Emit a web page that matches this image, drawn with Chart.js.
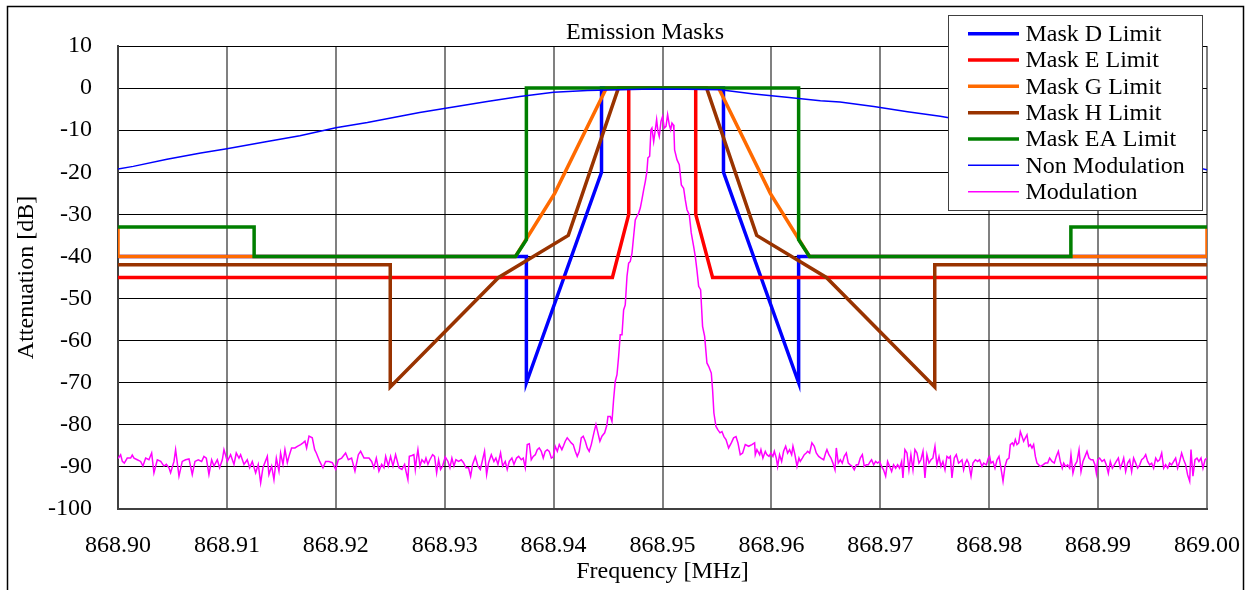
<!DOCTYPE html>
<html>
<head>
<meta charset="utf-8">
<script src="https://cdn.jsdelivr.net/npm/chart.js@4.4.1/dist/chart.umd.min.js"></script>
<style>
  body { margin: 0; background: #fff; }
  canvas { display: block; }
</style>
</head>
<body>
<canvas id="maskChart" width="1255" height="590"></canvas>
<script>
// x values are kHz above 868.90 MHz, y values are dB
var xTickLabels = ['868.90', '868.91', '868.92', '868.93', '868.94', '868.95',
                   '868.96', '868.97', '868.98', '868.99', '869.00'];

var maskDKHz = [0, 37.5, 37.5, 44.4, 44.4, 55.6, 55.6, 62.5, 62.5, 100];
var maskDDb  = [-40, -40, -70, -20, 0, 0, -20, -70, -40, -40];

var maskEKHz = [0, 45.4, 46.9, 46.9, 53.05, 53.05, 54.6, 100];
var maskEDb  = [-45, -45, -30, 0, 0, -30, -45, -45];

var maskGKHz = [0, 0, 36.5, 40.1, 44.85, 55.15, 59.9, 63.5, 100, 100];
var maskGDb  = [-33, -40, -40, -25, 0, 0, -25, -40, -40, -33];

var maskHKHz = [0, 25, 25, 34.95, 41.35, 45.95, 54.05, 58.65, 65.05, 75, 75, 100];
var maskHDb  = [-42, -42, -71, -45, -35, 0, 0, -35, -45, -71, -42, -42];

var maskEAKHz = [0, 12.5, 12.5, 36.5, 37.5, 37.5, 62.5, 62.5, 63.5, 87.5, 87.5, 100];
var maskEADb  = [-33, -33, -40, -40, -36, 0, 0, -36, -40, -40, -33, -33];

var nonModKHz = [0, 1.4, 4.5, 7.6, 10, 13.7, 16.7, 20, 22.9, 25.9, 27.7, 30.8, 33.9, 36.9, 40, 43.1,
                 46.1, 49.2, 52.2, 55.3, 58.4, 61.4, 64.5, 66.3, 69.4, 72.5, 75.5, 78, 80, 84, 88, 92, 96, 100];
var nonModDb  = [-19.2, -18.6, -16.9, -15.4, -14.4, -12.7, -11.3, -9.4, -8.2, -6.7, -5.8, -4.5, -3.2, -2.0, -1.0, -0.6,
                 -0.4, -0.2, -0.3, -0.4, -1.4, -2.2, -3.0, -3.3, -4.4, -5.6, -6.7, -7.8, -8.9, -10.8, -12.8, -15.0, -17.2, -19.4];

var modKHz = [
  0, 0.24, 0.40, 0.58, 0.85, 1.16, 1.31, 1.47, 1.77, 2.08, 2.29, 2.54, 2.84, 3.09, 3.30, 3.61, 3.92, 4.22, 4.44, 4.68,
  4.83, 5.14, 5.29, 5.60, 5.90, 6.21, 6.52, 6.82, 7.07, 7.37, 7.68, 7.89, 8.11, 8.35, 8.60, 8.81, 9.12, 9.33, 9.58, 9.73,
  10.04, 10.34, 10.65, 10.86, 11.11, 11.26, 11.57, 11.87, 12.09, 12.33, 12.64, 12.88, 13.10, 13.31, 13.71, 13.86, 14.11, 14.32, 14.54, 14.78,
  14.93, 15.15, 15.33, 15.55, 15.70, 15.94, 16.25, 16.47, 16.77, 16.99, 17.17, 17.32, 17.54, 17.84, 18.06, 18.21, 18.52, 18.82, 19.07, 19.37,
  19.68, 19.99, 20.23, 20.54, 20.90, 21.15, 21.45, 21.76, 22.07, 22.28, 22.59, 23.05, 23.29, 23.50, 23.72, 23.96, 24.21, 24.42, 24.58, 24.82,
  25.03, 25.25, 25.49, 25.80, 26.07, 26.32, 26.44, 26.62, 26.75, 26.99, 27.17, 27.30, 27.42, 27.54, 27.73, 27.91, 28.15, 28.28, 28.46, 28.64,
  28.89, 29.07, 29.26, 29.44, 29.62, 29.81, 30.05, 30.30, 30.48, 30.66, 30.85, 31.03, 31.28, 31.52, 31.73, 31.95, 32.19, 32.38, 32.56, 32.81,
  33.05, 33.27, 33.48, 33.66, 33.85, 34.03, 34.28, 34.52, 34.70, 34.89, 35.13, 35.32, 35.56, 35.74, 35.93, 36.17, 36.36, 36.60, 36.79, 37.03,
  37.21, 37.40, 37.58, 37.77, 37.95, 38.13, 38.32, 38.50, 38.68, 38.87, 39.05, 39.23, 39.42, 39.60, 39.79, 39.97, 40.15, 40.34, 40.52, 40.76,
  40.92, 41.07, 41.25, 41.44, 41.62, 41.80, 41.99, 42.17, 42.36, 42.54, 42.72, 42.91, 43.09, 43.27, 43.46, 43.70, 43.89, 44.07, 44.25, 44.44,
  44.69, 44.90, 44.99, 45.21, 45.36, 45.51, 45.66, 45.82, 45.97, 46.12, 46.28, 46.43, 46.58, 46.74, 46.89, 47.04, 47.20, 47.35, 47.50, 47.65,
  47.81, 47.96, 48.11, 48.27, 48.42, 48.57, 48.66, 48.82, 48.94, 49.03, 49.19, 49.34, 49.46, 49.58, 49.70, 49.86, 50.01, 50.16, 50.32, 50.47,
  50.62, 50.75, 50.87, 50.99, 51.05, 51.11, 51.33, 51.54, 51.73, 51.94, 52.09, 52.25, 52.46, 52.64, 52.86, 53.01, 53.16, 53.32, 53.50, 53.68,
  53.87, 54.08, 54.24, 54.48, 54.60, 54.72, 54.91, 55.09, 55.28, 55.46, 55.64, 55.83, 56.07, 56.32, 56.53, 56.75, 56.93, 57.14, 57.36, 57.60,
  57.91, 58.21, 58.46, 58.52, 58.67, 58.92, 59.04, 59.22, 59.44, 59.59, 59.78, 59.96, 60.14, 60.27, 60.45, 60.57, 60.75, 60.94, 61.12, 61.31,
  61.49, 61.67, 61.86, 61.98, 62.16, 62.35, 62.53, 62.65, 62.84, 63.02, 63.20, 63.33, 63.51, 63.72, 63.94, 64.12, 64.34, 64.55, 64.80, 64.98,
  65.10, 65.28, 65.47, 65.65, 65.84, 65.96, 66.14, 66.33, 66.51, 66.69, 66.88, 67.06, 67.24, 67.43, 67.61, 67.80, 67.98, 68.16, 68.35, 68.53,
  68.71, 68.90, 69.08, 69.20, 69.39, 69.57, 69.75, 69.94, 70.12, 70.30, 70.49, 70.67, 70.86, 71.04, 71.22, 71.41, 71.59, 71.77, 71.96, 72.08,
  72.26, 72.45, 72.63, 72.81, 73.00, 73.18, 73.37, 73.55, 73.73, 73.92, 74.10, 74.28, 74.47, 74.65, 74.83, 75.02, 75.20, 75.39, 75.57, 75.75,
  75.94, 76.12, 76.30, 76.43, 76.58, 76.79, 76.98, 77.19, 77.35, 77.50, 77.65, 77.81, 77.96, 78.11, 78.33, 78.51, 78.73, 78.94, 79.12, 79.34,
  79.49, 79.74, 79.92, 80.04, 80.16, 80.35, 80.53, 80.72, 80.90, 81.08, 81.27, 81.45, 81.63, 81.82, 81.94, 82.12, 82.25, 82.40, 82.55, 82.71,
  82.86, 83.01, 83.16, 83.32, 83.47, 83.62, 83.78, 83.93, 84.08, 84.24, 84.39, 84.54, 84.69, 84.94, 85.15, 85.37, 85.55, 85.77, 85.98, 86.16,
  86.35, 86.53, 86.71, 86.84, 87.02, 87.20, 87.39, 87.51, 87.69, 87.88, 88.06, 88.25, 88.43, 88.61, 88.80, 88.98, 89.16, 89.35, 89.53, 89.71,
  89.84, 89.96, 90.14, 90.36, 90.57, 90.75, 90.94, 91.12, 91.31, 91.49, 91.67, 91.86, 92.04, 92.22, 92.35, 92.53, 92.71, 92.90, 93.08, 93.26,
  93.45, 93.63, 93.82, 94.00, 94.18, 94.37, 94.55, 94.73, 94.92, 95.10, 95.29, 95.47, 95.65, 95.84, 96.02, 96.20, 96.39, 96.57, 96.75, 96.94,
  97.12, 97.30, 97.49, 97.67, 97.86, 98.04, 98.22, 98.41, 98.53, 98.71, 98.90, 99.08, 99.26, 99.45, 99.63, 99.82, 100
];
var modDb = [
  -88.0, -87.1, -88.7, -89.1, -87.9, -87.9, -87.2, -87.9, -88.3, -88.7, -89.8, -87.9, -88.3, -86.7, -91.4, -88.3, -88.7, -89.8, -89.4, -90.2,
  -91.4, -88.7, -85.9, -92.2, -88.7, -88.3, -88.1, -91.8, -88.7, -88.3, -88.7, -87.5, -87.9, -91.8, -88.3, -89.8, -88.3, -90.2, -88.3, -85.9,
  -88.7, -87.1, -89.4, -86.7, -87.9, -87.1, -89.4, -88.3, -90.2, -88.7, -91.4, -89.4, -93.8, -90.2, -87.5, -91.8, -89.8, -93.0, -87.9, -91.0,
  -86.7, -89.4, -85.9, -89.0, -87.5, -85.5, -85.5, -85.1, -84.7, -84.3, -83.9, -85.5, -82.7, -83.1, -85.9, -86.7, -88.7, -90.2, -88.7, -88.7,
  -89.0, -90.6, -88.3, -87.9, -86.7, -88.3, -87.9, -91.0, -87.1, -86.3, -87.9, -87.9, -88.7, -90.2, -87.9, -91.0, -89.4, -90.2, -87.5, -89.8,
  -87.5, -89.8, -87.1, -90.2, -90.6, -89.4, -91.0, -93.0, -87.5, -87.3, -87.1, -90.6, -87.9, -85.9, -89.8, -88.3, -89.0, -87.9, -89.4, -88.3,
  -87.1, -87.5, -91.4, -88.3, -90.6, -89.8, -87.6, -88.7, -90.2, -87.9, -89.8, -88.3, -88.7, -88.3, -89.0, -90.2, -90.2, -92.2, -89.4, -87.6,
  -89.8, -90.6, -88.3, -86.3, -91.8, -89.0, -87.1, -88.7, -87.9, -89.4, -86.7, -89.8, -88.7, -90.6, -88.7, -87.9, -89.4, -87.9, -87.5, -88.3,
  -87.9, -90.2, -84.7, -84.5, -88.3, -87.5, -87.1, -85.9, -85.5, -86.3, -87.9, -86.3, -85.9, -86.3, -87.9, -87.6, -85.1, -86.3, -84.7, -85.9,
  -84.9, -83.9, -83.1, -83.7, -84.3, -84.7, -86.3, -87.5, -86.3, -83.1, -82.7, -83.9, -85.5, -86.3, -84.7, -81.9, -79.9, -81.9, -83.9, -82.7,
  -81.9, -80.0, -78.0, -78.0, -79.2, -74.0, -69.7, -68.1, -63.8, -58.6, -58.6, -52.7, -51.5, -44.7, -41.6, -41.2, -39.2, -35.2, -31.3, -30.5,
  -29.7, -28.5, -26.5, -24.2, -22.2, -19.8, -16.6, -16.2, -9.9, -9.5, -12.7, -9.9, -7.5, -10.3, -11.5, -7.9, -6.7, -9.5, -9.1, -6.3,
  -8.7, -9.9, -8.3, -8.7, -9.9, -14.7, -17.0, -18.2, -23.0, -23.8, -26.5, -28.9, -30.1, -34.4, -37.6, -40.0, -43.2, -47.1, -47.9, -56.6,
  -59.0, -65.3, -66.1, -67.7, -71.7, -77.2, -80.4, -81.2, -81.9, -81.6, -82.8, -83.5, -85.5, -84.3, -83.1, -82.8, -84.3, -87.1, -86.7, -84.7,
  -85.1, -84.7, -84.3, -87.1, -85.9, -87.1, -85.9, -87.9, -86.3, -87.1, -87.5, -86.7, -87.5, -86.3, -87.9, -89.9, -87.1, -88.7, -86.3, -85.1,
  -86.7, -85.9, -87.1, -85.1, -87.1, -89.9, -87.9, -88.7, -87.9, -87.1, -86.7, -86.3, -86.7, -84.3, -85.1, -86.7, -87.5, -87.9, -88.3, -86.7,
  -85.9, -87.1, -87.9, -89.1, -90.7, -85.5, -89.1, -88.3, -89.1, -87.5, -86.7, -89.1, -89.5, -89.9, -90.7, -89.5, -89.5, -87.9, -87.1, -89.9,
  -89.5, -89.5, -88.7, -88.3, -89.5, -88.7, -89.1, -88.7, -89.9, -90.7, -92.2, -88.7, -89.9, -91.1, -89.5, -90.3, -89.5, -90.3, -88.7, -92.6,
  -85.9, -86.7, -90.7, -87.1, -90.7, -85.9, -86.7, -89.1, -88.3, -86.3, -92.6, -87.1, -89.1, -88.3, -87.9, -85.1, -89.5, -87.5, -89.9, -88.7,
  -90.7, -87.5, -87.9, -87.5, -92.6, -87.9, -87.1, -89.1, -88.7, -88.3, -90.7, -89.1, -88.3, -89.1, -92.2, -89.1, -88.3, -88.7, -88.3, -89.9,
  -89.1, -89.5, -87.9, -87.5, -89.1, -88.7, -90.3, -88.3, -87.5, -90.3, -93.4, -89.9, -88.3, -87.9, -84.7, -84.3, -84.9, -83.5, -84.7, -84.3,
  -81.6, -82.7, -83.9, -83.1, -82.4, -85.1, -84.7, -85.5, -84.7, -87.5, -89.1, -89.5, -89.9, -89.5, -89.1, -89.1, -87.9, -88.7, -89.1, -87.5,
  -86.3, -88.7, -90.3, -89.1, -89.9, -89.5, -90.3, -87.1, -91.5, -89.5, -88.7, -85.9, -91.1, -88.7, -87.5, -86.3, -87.9, -88.3, -88.3, -89.5,
  -91.5, -88.3, -87.9, -88.7, -88.3, -89.5, -91.5, -88.7, -90.3, -89.5, -88.7, -87.9, -90.3, -89.1, -87.9, -91.1, -89.1, -88.3, -91.1, -87.9,
  -89.1, -90.3, -89.5, -88.3, -87.9, -87.1, -88.7, -89.5, -89.1, -90.3, -87.9, -88.7, -88.3, -86.7, -90.3, -89.5, -90.3, -89.1, -89.5, -88.7,
  -87.9, -90.3, -88.7, -86.7, -88.3, -89.5, -91.9, -93.4, -85.9, -92.2, -88.3, -87.9, -88.7, -87.9, -90.3, -88.3, -87.9
];

function toPoints(xs, ys) {
    var pts = [];
    for (var i = 0; i < xs.length; i++) {
        pts.push({ x: xs[i], y: ys[i] });
    }
    return pts;
}

function series(label, xs, ys, color, width, order) {
    return {
        label: label,
        data: toPoints(xs, ys),
        borderColor: color,
        backgroundColor: color,
        borderWidth: width,
        pointRadius: 0,
        tension: 0,
        fill: false,
        order: order
    };
}

var SERIF = "'Liberation Serif', 'Times New Roman', serif";
Chart.defaults.font.family = SERIF;
Chart.defaults.font.size = 24;
Chart.defaults.color = '#000';

// title, outer frame and legend box drawn on top of the plot
var decorations = {
    id: 'decorations',
    afterDraw: function (chart) {
        var ctx = chart.ctx;
        ctx.save();
        ctx.strokeStyle = '#000';
        ctx.lineWidth = 1.5;
        ctx.strokeRect(7.5, 6.5, 1236, 620);

        ctx.fillStyle = '#000';
        ctx.font = '24px ' + SERIF;
        ctx.textAlign = 'center';
        ctx.textBaseline = 'middle';
        ctx.fillText('Emission Masks', 645, 33);

        var bx = 948.5, by = 15.5, bw = 254, bh = 195;
        ctx.fillStyle = '#fff';
        ctx.fillRect(bx, by, bw, bh);
        ctx.strokeStyle = '#404040';
        ctx.lineWidth = 1;
        ctx.strokeRect(bx, by, bw, bh);

        ctx.textAlign = 'left';
        chart.data.datasets.forEach(function (ds, i) {
            var y = 33.7 + i * 26.33;
            ctx.strokeStyle = ds.borderColor;
            ctx.lineWidth = ds.borderWidth;
            ctx.beginPath();
            ctx.moveTo(968, y);
            ctx.lineTo(1019, y);
            ctx.stroke();
            ctx.fillStyle = '#000';
            ctx.fillText(ds.label, 1025.5, y + 1);
        });
        ctx.restore();
    }
};

var ctx = document.getElementById('maskChart').getContext('2d');
var maskChart = new Chart(ctx, {
    type: 'line',
    data: {
        datasets: [
            series('Mask D Limit', maskDKHz, maskDDb, '#0000FF', 3.5, 6),
            series('Mask E Limit', maskEKHz, maskEDb, '#FF0000', 3.5, 5),
            series('Mask G Limit', maskGKHz, maskGDb, '#FF6A00', 3.5, 4),
            series('Mask H Limit', maskHKHz, maskHDb, '#993300', 3.5, 3),
            series('Mask EA Limit', maskEAKHz, maskEADb, '#007F00', 3.5, 2),
            series('Non Modulation', nonModKHz, nonModDb, '#0000FF', 1.5, 1),
            series('Modulation', modKHz, modDb, '#FF00FF', 1.5, 0)
        ]
    },
    options: {
        responsive: false,
        animation: false,
        devicePixelRatio: 1,
        layout: {
            padding: { left: 0, right: 48, top: 46, bottom: 0 }
        },
        plugins: {
            legend: { display: false },
            title: { display: false },
            tooltip: { enabled: false }
        },
        scales: {
            x: {
                type: 'linear',
                min: 0,
                max: 100,
                afterFit: function (scale) {
                    scale.height = 81;
                    scale.paddingLeft = 0;
                    scale.paddingRight = 0;
                },
                ticks: {
                    stepSize: 10,
                    padding: 22,
                    maxRotation: 0,
                    callback: function (value, index) { return xTickLabels[index]; }
                },
                grid: { color: '#808080', lineWidth: 2, drawTicks: false },
                border: { color: '#404040', width: 2 },
                title: {
                    display: true,
                    text: 'Frequency [MHz]',
                    padding: { top: 0, bottom: 4 }
                }
            },
            y: {
                min: -100,
                max: 10,
                afterFit: function (scale) { scale.width = 118; },
                ticks: {
                    stepSize: 10,
                    maxTicksLimit: 20,
                    padding: 26
                },
                grid: { color: '#000', lineWidth: 1, drawTicks: false },
                border: { color: '#404040', width: 2 },
                title: {
                    display: true,
                    text: 'Attenuation [dB]',
                    padding: { top: 12.5, bottom: 0 }
                }
            }
        }
    },
    plugins: [decorations]
});
</script>
</body>
</html>
